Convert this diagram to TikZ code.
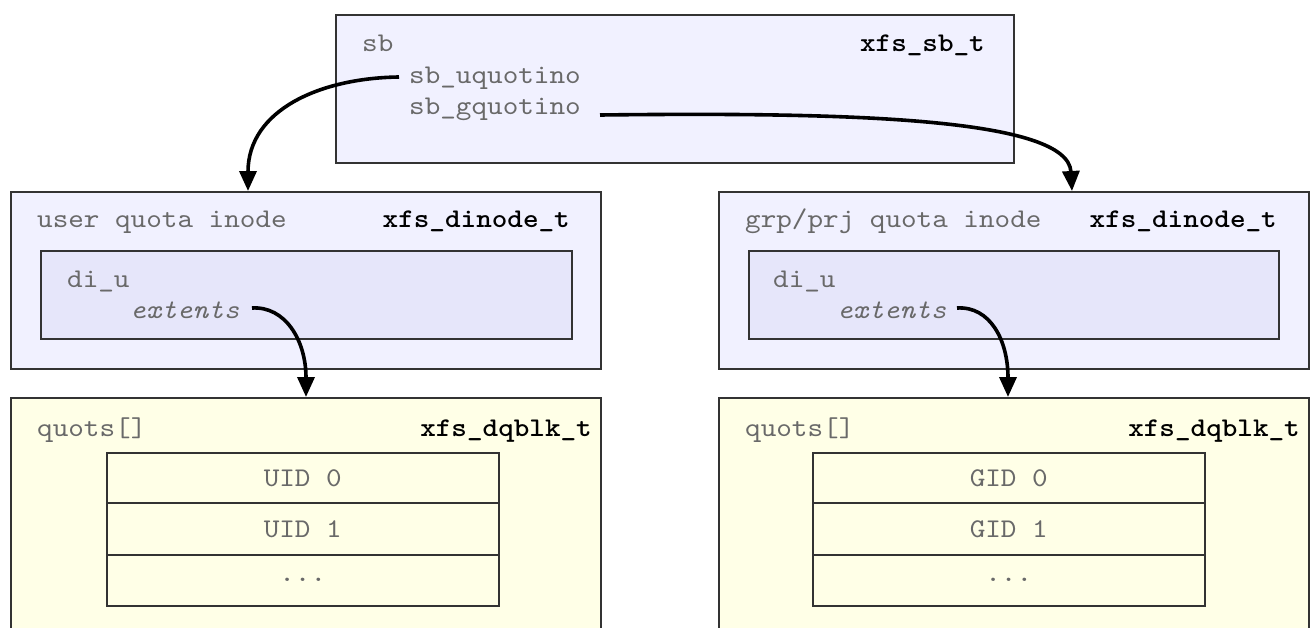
\documentclass[tikz,border=0pt]{standalone}
\usepackage{fontspec}
\newfontfamily\cour[FakeStretch=1.1, BoldFont=lmmonolt10-bold.otf, ItalicFont=lmmono10-italic.otf]{lmmono10-regular.otf}
\usetikzlibrary{arrows.meta}
\definecolor{lav}{RGB}{241,241,255}
\definecolor{lavin}{RGB}{230,230,250}
\definecolor{yel}{RGB}{255,255,231}
\definecolor{txt}{RGB}{105,105,105}
\definecolor{edge}{RGB}{51,51,51}
\tikzset{
  box/.style={draw=edge, line width=2pt, anchor=north west, inner sep=0pt},
  lbl/.style={anchor=base west, inner sep=0pt, text=txt, font=\cour\fontsize{27}{31}\selectfont},
  typ/.style={anchor=base east, inner sep=0pt, text=black, font=\cour\bfseries\fontsize{27}{31}\selectfont},
  row/.style={draw=edge, line width=1.5pt, fill=yel, anchor=north west, inner sep=0pt, text=txt, font=\cour\fontsize{27}{31}\selectfont},
  ptr/.style={line width=3.6pt, -{Triangle[length=20pt,width=17pt]}}
}
\begin{document}
\begin{tikzpicture}[x=1pt,y=-1pt]
\useasboundingbox (0,0) rectangle (1314,627);
\clip (0,0) rectangle (1314,627);
% superblock
\node[box, fill=lav, minimum width=678pt, minimum height=148pt] (sb) at (335,14) {};
\node[lbl] (sbl) at (362,51) {sb};
\node[typ] (sbt) at (985,51) {xfs\_sb\_t};
\node[lbl] (uq) at (409,83) {sb\_uquotino};
\node[lbl] (gq) at (409,114) {sb\_gquotino};
% left inode
\node[box, fill=lav, minimum width=590pt, minimum height=177pt] (ldin) at (10,191) {};
\node[lbl] (ldl) at (37,227) {user quota inode};
\node[typ] (ldt) at (570,227) {xfs\_dinode\_t};
\node[box, fill=lavin, minimum width=531pt, minimum height=88pt] (ldiu) at (40,250) {};
\node[lbl] (ldiul) at (67,287) {di\_u};
\node[lbl, font=\cour\itshape\fontsize{27}{31}\selectfont] (lext) at (130,318) {extents};
% right inode
\node[box, fill=lav, minimum width=590pt, minimum height=177pt] (rdin) at (718,191) {};
\node[lbl] (rdl) at (745,227) {grp/prj quota inode};
\node[typ] (rdt) at (1277,227) {xfs\_dinode\_t};
\node[box, fill=lavin, minimum width=530pt, minimum height=88pt] (rdiu) at (748,250) {};
\node[lbl] (rdiul) at (773,287) {di\_u};
\node[lbl, font=\cour\itshape\fontsize{27}{31}\selectfont] (rext) at (837,318) {extents};
% left dquot block
\node[box, fill=yel, minimum width=590pt, minimum height=260pt] (ldq) at (10,397) {};
\node[lbl] (ldql) at (37,436) {quots[]};
\node[typ] (ldqt) at (592,436) {xfs\_dqblk\_t};
\node[row, minimum width=392pt, minimum height=50pt] (lu0) at (106,452) {UID 0};
\node[row, minimum width=392pt, minimum height=52pt] (lu1) at (106,502) {UID 1};
\node[row, minimum width=392pt, minimum height=51pt] (lu2) at (106,554) {...};
% right dquot block
\node[box, fill=yel, minimum width=590pt, minimum height=260pt] (rdq) at (718,397) {};
\node[lbl] (rdql) at (745,436) {quots[]};
\node[typ] (rdqt) at (1300,436) {xfs\_dqblk\_t};
\node[row, minimum width=392pt, minimum height=50pt] (rg0) at (812,452) {GID 0};
\node[row, minimum width=392pt, minimum height=52pt] (rg1) at (812,502) {GID 1};
\node[row, minimum width=392pt, minimum height=51pt] (rg2) at (812,554) {...};
% arrow targets
\coordinate (t1) at (248,191);
\coordinate (t2) at (1072,191);
\coordinate (t3) at (306,397);
\coordinate (t4) at (1008,397);
% arrow starts
\coordinate (s1) at (399,77);
\coordinate (s2) at (600,115);
\coordinate (s3) at (252,308);
\coordinate (s4) at (957,308);
% pointers
\draw[ptr] (s1) .. controls (320,78) and (248,110) .. (t1);
\draw[ptr] (s2) .. controls (850,112) and (1068,118) .. (t2);
\draw[ptr] (s3) .. controls (285,306) and (306,340) .. (t3);
\draw[ptr] (s4) .. controls (990,306) and (1008,340) .. (t4);
\end{tikzpicture}
\end{document}
